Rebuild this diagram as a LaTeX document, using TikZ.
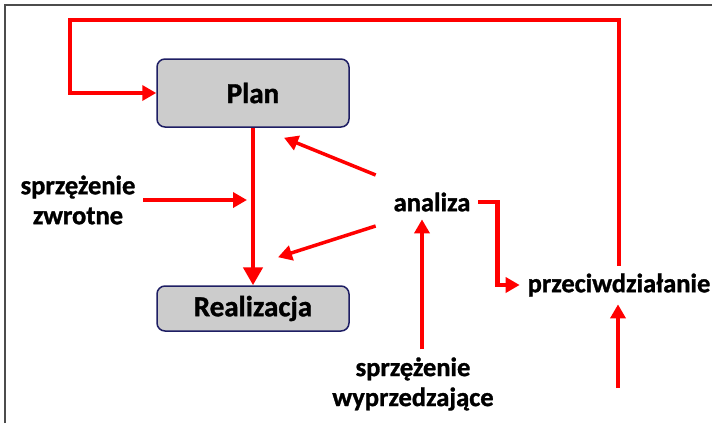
\documentclass[tikz,border=0pt]{standalone}
\usepackage{fontspec}
\setmainfont{Carlito}[BoldFeatures={FakeBold=1.2}]
\usetikzlibrary{arrows.meta}
\definecolor{boxline}{RGB}{30,30,100}
\definecolor{boxfill}{RGB}{204,204,204}
\tikzset{
  box/.style={draw=boxline, line width=1.5pt, fill=boxfill, rounded corners=8pt,
    minimum width=192pt, font=\bfseries\fontsize{29}{30}\selectfont},
  lbl/.style={font=\bfseries\fontsize{26.5}{30}\selectfont, align=center, inner sep=2pt, outer sep=6pt},
  link/.style={red, line width=4.5pt, -{Triangle[length=14pt,width=15pt]}},
}
\begin{document}
\begin{tikzpicture}[x=1pt,y=-1pt]
\useasboundingbox (0,0) rectangle (712,423);
\draw[gray!60!black, line width=2pt] (5,423) -- (5,5) -- (712,5); % frame

\node[box, minimum height=68pt] (plan) at (253,93) {Plan};
\node[box, minimum height=45pt] (real) at (253,308.5) {Realizacja};
\node[lbl] (zwrot) at (78,200) {sprzężenie\\zwrotne};
\node[lbl] (analiza) at (432,202) {analiza};
\node[lbl] (przeciw) at (619,285) {przeciwdziałanie};
\node[lbl] (wyprz) at (413,384) {sprzężenie\\wyprzedzające};
\coordinate (fb) at (247,200);
\coordinate (ext) at (618,388);

\draw[link] (przeciw.north) |- (70,20) |- (plan.west); % back to the plan
\draw[link, -{Triangle[length=18pt,width=19pt]}] (plan) -- (real);
\draw[link] (zwrot.east) -- (fb);
\draw[link, line width=3.5pt] ([xshift=-10pt,yshift=27pt]analiza.west) -- ([xshift=31pt,yshift=-10pt]plan.south);
\draw[link, line width=3.5pt] ([xshift=-10pt,yshift=-24pt]analiza.west) -- ([xshift=25pt,yshift=28pt]real.north);
\draw[link] (analiza.east) -- ++(19,0) |- (przeciw.west);
\draw[link] ([xshift=9pt]wyprz.north) -- ([xshift=-10pt]analiza.south);
\draw[link] (ext) -- (ext |- przeciw.south);

\end{tikzpicture}
\end{document}
